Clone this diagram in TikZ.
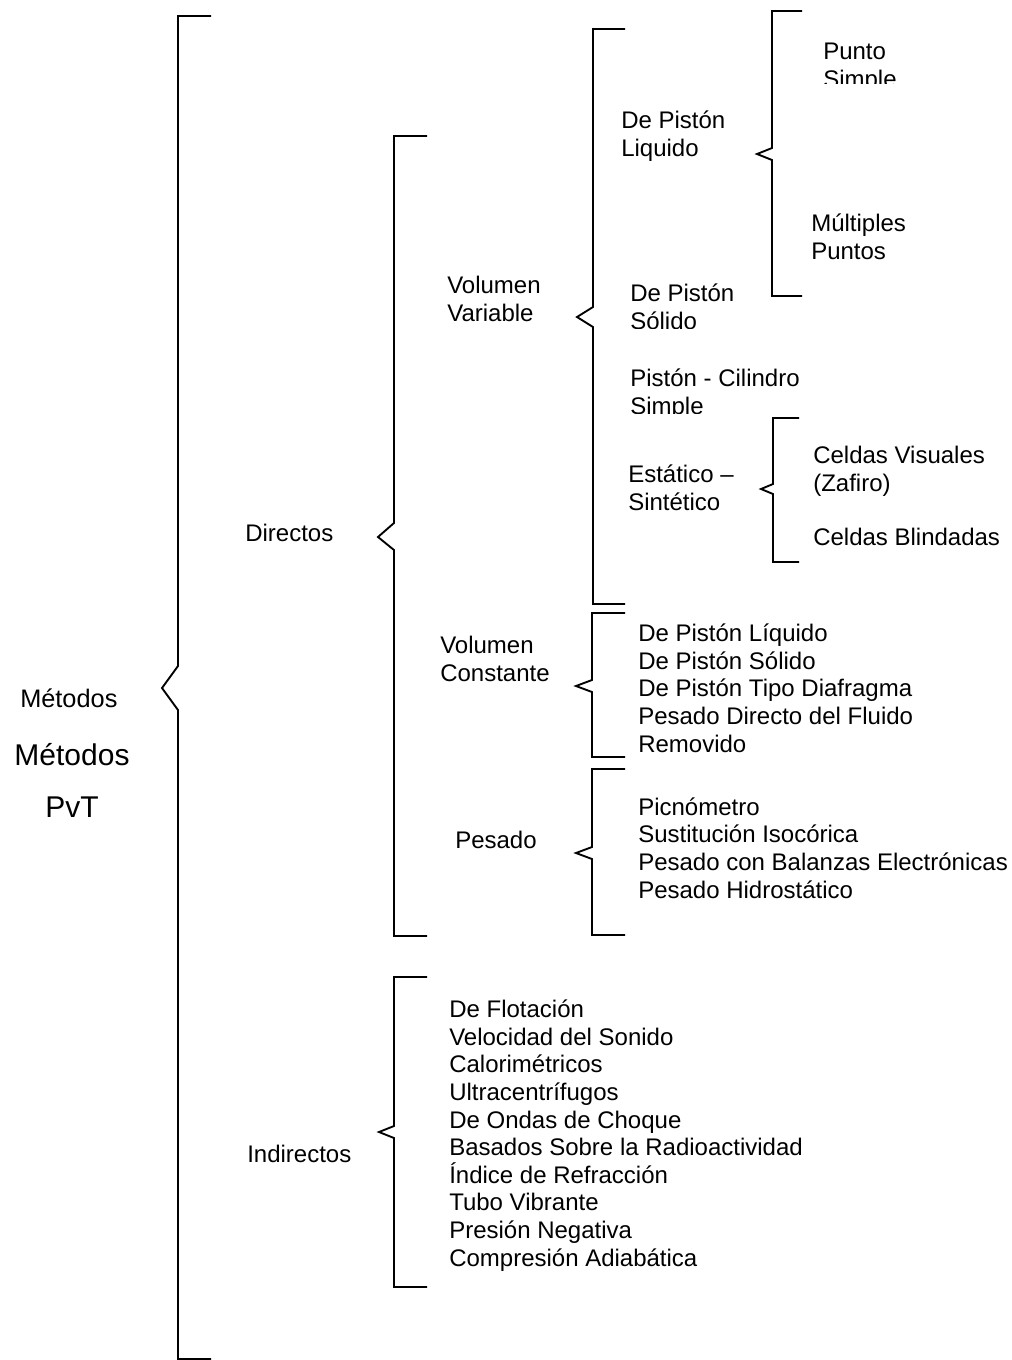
\documentclass[tikz,border=0pt]{standalone}
\usepackage{fontspec}
\setmainfont{Liberation Sans}
\begin{document}
\begin{tikzpicture}[
        x=0.75pt, y=-0.75pt,
        txt/.style={anchor=base west, inner sep=0pt, align=left, font=\fontsize{18pt}{20.7pt}\selectfont},
        bigtxt/.style={anchor=base, inner sep=0pt, font=\fontsize{22.5pt}{26pt}\selectfont},
        bracket/.style={line width=1.4pt, line join=miter}
    ]
    \useasboundingbox (0,0) rectangle (1011,1360);

    % Root (multi-line nodes sit on their last baseline)
    \node (metodos) at (20,707) [txt, font=\fontsize{19pt}{22pt}\selectfont] {Métodos};
    \node (titulo) at (72,765) [bigtxt] {Métodos};
    \node (pvt) at (72,817) [bigtxt] {PvT};
    \draw[bracket] (211,16) -- (178,16) -- (178,666) -- (162,688) -- (178,710) -- (178,1359) -- (211,1359);

    % Directos
    \node (directos) at (245,541) [txt] {Directos};
    \draw[bracket] (427,136) -- (394,136) -- (394,523) -- (378,537) -- (394,550) -- (394,936) -- (427,936);

    % Volumen Variable
    \node (vvariable) at (447,321) [txt] {Volumen\\Variable};
    \draw[bracket] (625,29) -- (593,29) -- (593,307) -- (577,317) -- (593,327) -- (593,604) -- (625,604);

    \node (pliquido) at (621,156) [txt] {De Pistón\\Liquido};
    \draw[bracket] (802,11) -- (772,11) -- (772,148) -- (757,154) -- (772,160) -- (772,296) -- (802,296);
    \begin{scope}
        \clip (800,0) rectangle (1011,83);
        \node (punto) at (823,87) [txt] {Punto\\Simple};
    \end{scope}
    \node (multiples) at (811,259) [txt] {Múltiples\\Puntos};

    \begin{scope}
        \clip (600,270) rectangle (800,328);
        \node (psolido) at (630,329) [txt] {De Pistón\\Sólido};
    \end{scope}
    \begin{scope}
        \clip (600,355) rectangle (850,413);
        \node (cilindro) at (630,414) [txt] {Pistón - Cilindro\\Simple};
    \end{scope}

    \node (estatico) at (628,510) [txt] {Estático –\\Sintético};
    \draw[bracket] (799,418) -- (773,418) -- (773,484) -- (761,489) -- (773,494) -- (773,562) -- (799,562);
    \node (visuales) at (813,491) [txt] {Celdas Visuales\\(Zafiro)};
    \node (blindadas) at (813,545) [txt] {Celdas Blindadas};

    % Volumen Constante
    \node (vconstante) at (440,681) [txt] {Volumen\\Constante};
    \draw[bracket] (625,613) -- (592,613) -- (592,680) -- (576,686) -- (592,692) -- (592,757) -- (625,757);
    \node (listavc) at (638,752) [txt] {De Pistón Líquido\\De Pistón Sólido\\De Pistón Tipo Diafragma\\Pesado Directo del Fluido\\Removido};

    % Pesado
    \node (pesado) at (455,848) [txt] {Pesado};
    \draw[bracket] (625,769) -- (592,769) -- (592,847) -- (576,853) -- (592,859) -- (592,935) -- (625,935);
    \node (listapes) at (638,898) [txt] {Picnómetro\\Sustitución Isocórica\\Pesado con Balanzas Electrónicas\\Pesado Hidrostático};

    % Indirectos
    \node (indirectos) at (247,1162) [txt] {Indirectos};
    \draw[bracket] (427,977) -- (394,977) -- (394,1126) -- (379,1132) -- (394,1138) -- (394,1287) -- (427,1287);
    \node (listaind) at (449,1266) [txt] {De Flotación\\Velocidad del Sonido\\Calorimétricos\\Ultracentrífugos\\De Ondas de Choque\\Basados Sobre la Radioactividad\\Índice de Refracción\\Tubo Vibrante\\Presión Negativa\\Compresión Adiabática};

\end{tikzpicture}
\end{document}
